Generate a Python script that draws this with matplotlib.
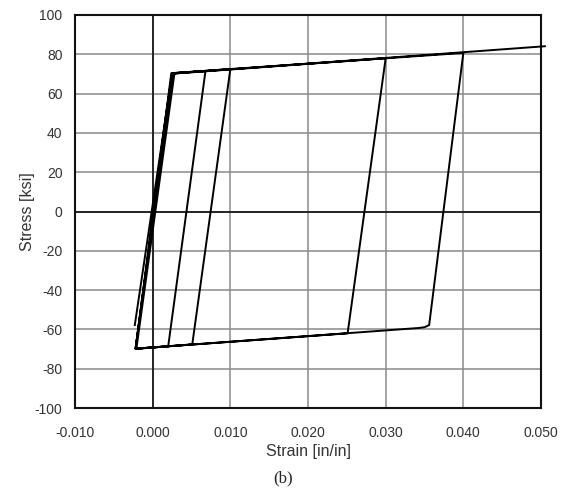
import matplotlib
matplotlib.use("Agg")
import matplotlib.pyplot as plt

# Cyclic stress-strain path (strain [in/in], stress [ksi])
strain = [-0.0023, 0.0025, 0.0032, 0.0068, 0.0020, -0.0022,
          0.0026, 0.0100, 0.0051, -0.0021,
          0.0028, 0.0300, 0.0251, -0.0022,
          0.0024, 0.0400, 0.0356, 0.0350, 0.0342, -0.0022,
          0.0025, 0.0505]
stress = [-57.8, 70.0, 70.6, 71.5, -68.6, -69.8,
          70.3, 72.5, -67.6, -69.9,
          70.2, 78.0, -62.0, -69.8,
          70.4, 80.7, -57.8, -58.9, -59.3, -69.8,
          70.2, 84.1]

xticks = [-0.010, 0.000, 0.010, 0.020, 0.030, 0.040, 0.050]
xticklabels = ["-0.010", "0.000", "0.010", "0.020", "0.030", "0.040", "0.050"]
yticks = [-100, -80, -60, -40, -20, 0, 20, 40, 60, 80, 100]
yticklabels = ["-100", "-80", "-60", "-40", "-20", "0", "20", "40", "60", "80", "100"]

plt.rcParams['font.family'] = ['Liberation Sans', 'DejaVu Sans']

fig = plt.figure(figsize=(5.62, 4.97), dpi=100)
ax = fig.add_axes([75/562, 1-408/497, (541-75)/562, (408-15)/497])

ax.set_xlim(-0.010, 0.050)
ax.set_ylim(-100, 100)
ax.set_xticks(xticks)
ax.set_xticklabels(xticklabels)
ax.set_yticks(yticks)
ax.set_yticklabels(yticklabels)

ax.grid(True, color="#8a8a8a", linewidth=1.1)
ax.set_axisbelow(True)
ax.axhline(0, color="#111111", linewidth=1.2, zorder=1.5)
ax.axvline(0, color="#111111", linewidth=1.2, zorder=1.5)

ax.plot(strain, stress, color="black", linewidth=1.4, clip_on=False, zorder=3)

for s in ax.spines.values():
    s.set_linewidth(1.5)
    s.set_color("#111111")

ax.tick_params(axis="both", length=0, labelsize=10, labelcolor="#333333")
ax.tick_params(axis="x", pad=13)
ax.tick_params(axis="y", pad=9)

ax.set_xlabel("Strain [in/in]", fontsize=11.5, color="#333333", labelpad=3)
ax.set_ylabel("Stress [ksi]", fontsize=11.5, color="#333333", labelpad=0)

fig.text(283/562, 1-478/497, "(b)", ha="center", va="center",
         fontsize=12, family=["Liberation Serif", "DejaVu Serif"], color="#222222")

fig.savefig("out.png", dpi=100, facecolor="white")
